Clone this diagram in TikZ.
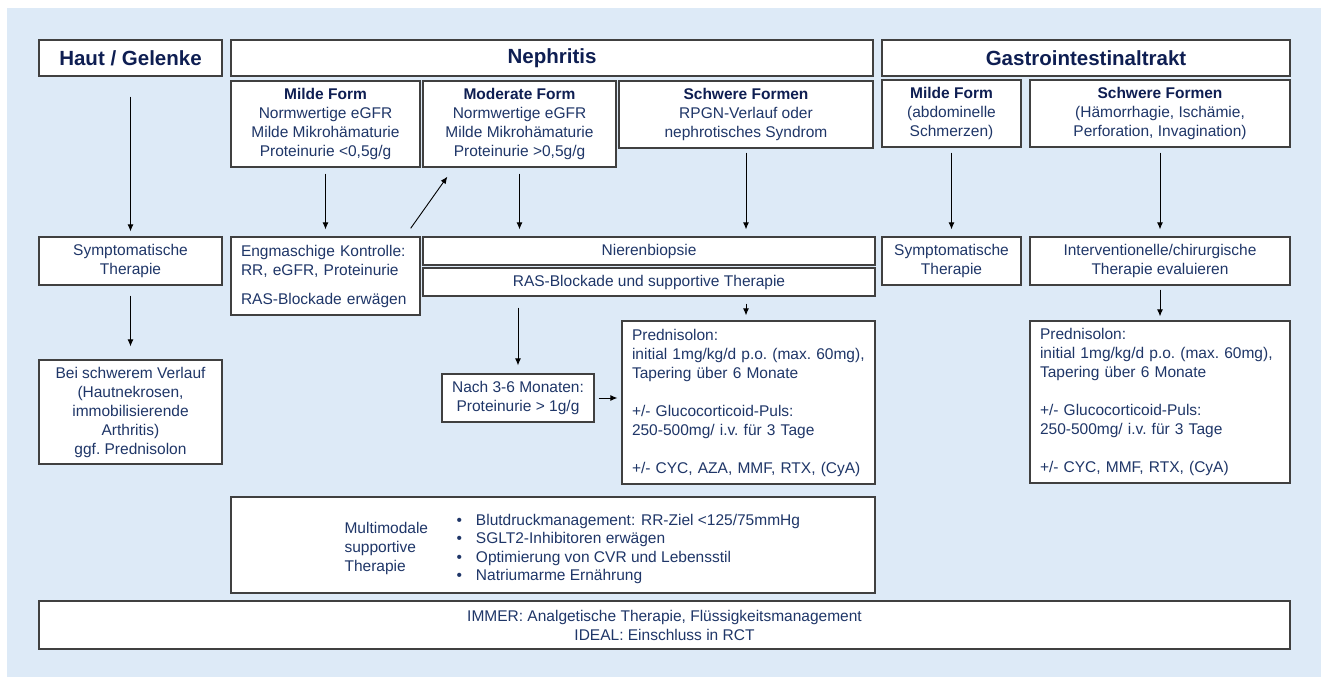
\documentclass[tikz,border=0pt]{standalone}
\usepackage{fontspec}
\setmainfont{Liberation Sans}
\usetikzlibrary{arrows.meta}

\definecolor{bgblue}{RGB}{221,234,247}
\definecolor{navy}{RGB}{14,30,82}
\definecolor{bodyblue}{RGB}{31,54,104}
\definecolor{boxgray}{RGB}{64,64,64}

\newcommand\bodyfont{\fontsize{15.5}{19}\selectfont\frenchspacing}
\newcommand\headfont{\fontsize{20.5}{24}\selectfont\bfseries}
\newcommand\formtitle[1]{\textcolor{navy}{\textbf{#1}}}

\tikzset{
    box/.style={draw=boxgray, line width=1.3pt, fill=white, inner sep=0pt, align=center, text=bodyblue, font=\bodyfont},
    headbox/.style={box, text=navy, font=\headfont},
    leftbox/.style={box, align=left, inner xsep=10pt},
    wh/.style 2 args={minimum width=#1pt, minimum height=#2pt},
    arr/.style={->, line width=0.9pt, shorten <=5pt, shorten >=5pt}
}

\begin{document}
\begin{tikzpicture}[x=1pt, y=-1pt, >={Latex[length=7pt,width=6pt]}]
        \useasboundingbox (0,0) rectangle (1321,677);
        \fill[bgblue] (7,8) rectangle (1321,677);

        % headers
        \node[headbox, wh={183}{36}] (haut) at (130.5,58) {Haut / Gelenke};
        \node[headbox, wh={642}{36}] (neph) at (552,58) {Nephritis};
        \node[headbox, wh={408}{36}] (gi) at (1086,58) {Gastrointestinaltrakt};

        % forms
        \node[box, wh={189}{86}] (neMild) at (325.5,124) {\formtitle{Milde Form}\\Normwertige eGFR\\Milde Mikrohämaturie\\Proteinurie <0,5g/g};
        \node[box, wh={193}{86}] (neMod) at (519.5,124) {\formtitle{Moderate Form}\\Normwertige eGFR\\Milde Mikrohämaturie\\Proteinurie >0,5g/g};
        \node[box, wh={254}{67}] (neSchwer) at (746,114.5) {\formtitle{Schwere Formen}\\RPGN-Verlauf oder\\nephrotisches Syndrom};
        \node[box, wh={139}{67}] (giMild) at (951.5,113.5) {\formtitle{Milde Form}\\(abdominelle\\Schmerzen)};
        \node[box, wh={260}{67}] (giSchwer) at (1160,113.5) {\formtitle{Schwere Formen}\\(Hämorrhagie, Ischämie,\\Perforation, Invagination)};

        % second row
        \node[box, wh={183}{48}] (hautSym) at (130.5,261) {Symptomatische\\Therapie};
        \node[leftbox, wh={189}{78}, text width=169pt] (eng) at (325.5,276) {Engmaschige Kontrolle:\\RR, eGFR, Proteinurie\\[10pt]RAS-Blockade erwägen};
        \node[box, wh={452}{28}] (nieren) at (649,251) {Nierenbiopsie};
        \node[box, wh={452}{28}] (ras) at (649,282) {RAS-Blockade und supportive Therapie};
        \node[box, wh={139}{48}] (giSym) at (951.5,261) {Symptomatische\\Therapie};
        \node[box, wh={260}{48}] (giInt) at (1160,261) {Interventionelle/chirurgische\\Therapie evaluieren};

        % third row
        \node[box, wh={183}{104}] (bei) at (130.5,412) {Bei schwerem Verlauf\\(Hautnekrosen,\\immobilisierende\\Arthritis)\\ggf. Prednisolon};
        \node[box, wh={152}{48}] (nach) at (518,398) {Nach 3-6 Monaten:\\Proteinurie > 1g/g};
        \node[leftbox, wh={253}{163}, text width=233pt] (nePred) at (748.5,402.5) {Prednisolon:\\initial 1mg/kg/d p.o. (max. 60mg),\\Tapering über 6 Monate\\[19pt]+/- Glucocorticoid-Puls:\\250-500mg/ i.v. für 3 Tage\\[19pt]+/- CYC, AZA, MMF, RTX, (CyA)};
        \node[leftbox, wh={260}{162}, text width=240pt] (giPred) at (1160,402) {Prednisolon:\\initial 1mg/kg/d p.o. (max. 60mg),\\Tapering über 6 Monate\\[19pt]+/- Glucocorticoid-Puls:\\250-500mg/ i.v. für 3 Tage\\[19pt]+/- CYC, MMF, RTX, (CyA)};

        % bottom
        \node[box, wh={644}{96}] (multi) at (553,545) {};
        \node[text=bodyblue, font=\bodyfont, align=left, inner sep=0pt, anchor=west] (multiLbl) at ([xshift=114pt,yshift=-3pt]multi.west) {Multimodale\\supportive\\Therapie};
        \node[text=bodyblue, font={\fontsize{15.5}{18.3}\selectfont}, align=left, inner sep=0pt, anchor=west] (multiList) at ([xshift=226pt,yshift=-4pt]multi.west) {\textbullet\hspace{14pt}Blutdruckmanagement: RR-Ziel <125/75mmHg\\\textbullet\hspace{14pt}SGLT2-Inhibitoren erwägen\\\textbullet\hspace{14pt}Optimierung von CVR und Lebensstil\\\textbullet\hspace{14pt}Natriumarme Ernährung};
        \node[box, wh={1251}{48}] (immer) at (664.5,625) {IMMER: Analgetische Therapie, Flüssigkeitsmanagement\\IDEAL: Einschluss in RCT};

        % arrows
        \draw[arr, shorten <=20pt] (haut) -- (hautSym);
        \draw[arr, shorten <=6pt, shorten >=7pt] (neMild) -- (eng);
        \draw[arr, shorten <=0pt, shorten >=0pt] ([xshift=-10pt,yshift=8pt]eng.north east) -- ([xshift=25pt,yshift=-9pt]neMod.south west);
        \draw[arr, shorten <=6pt, shorten >=7pt] (neMod.south) -- (neMod.south |- nieren.north);
        \draw[arr, shorten <=4pt, shorten >=7pt] (neSchwer.south) -- (neSchwer.south |- nieren.north);
        \draw[arr, shorten >=7pt] (giMild) -- (giSym);
        \draw[arr, shorten >=7pt] (giSchwer) -- (giInt);
        \draw[arr, shorten <=10pt, shorten >=13pt] (hautSym) -- (bei);
        \draw[arr, shorten <=11pt, shorten >=8pt] (ras.south -| nach.north) -- (nach.north);
        \draw[arr, shorten <=7pt] (ras.south -| neSchwer.south) -- (neSchwer.south |- nePred.north);
        \draw[arr, shorten <=4pt, shorten >=4pt] (nach.east) -- (nach.east -| nePred.west);
        \draw[arr, shorten <=4pt, shorten >=4pt] (giInt) -- (giPred);
    \end{tikzpicture}
\end{document}
